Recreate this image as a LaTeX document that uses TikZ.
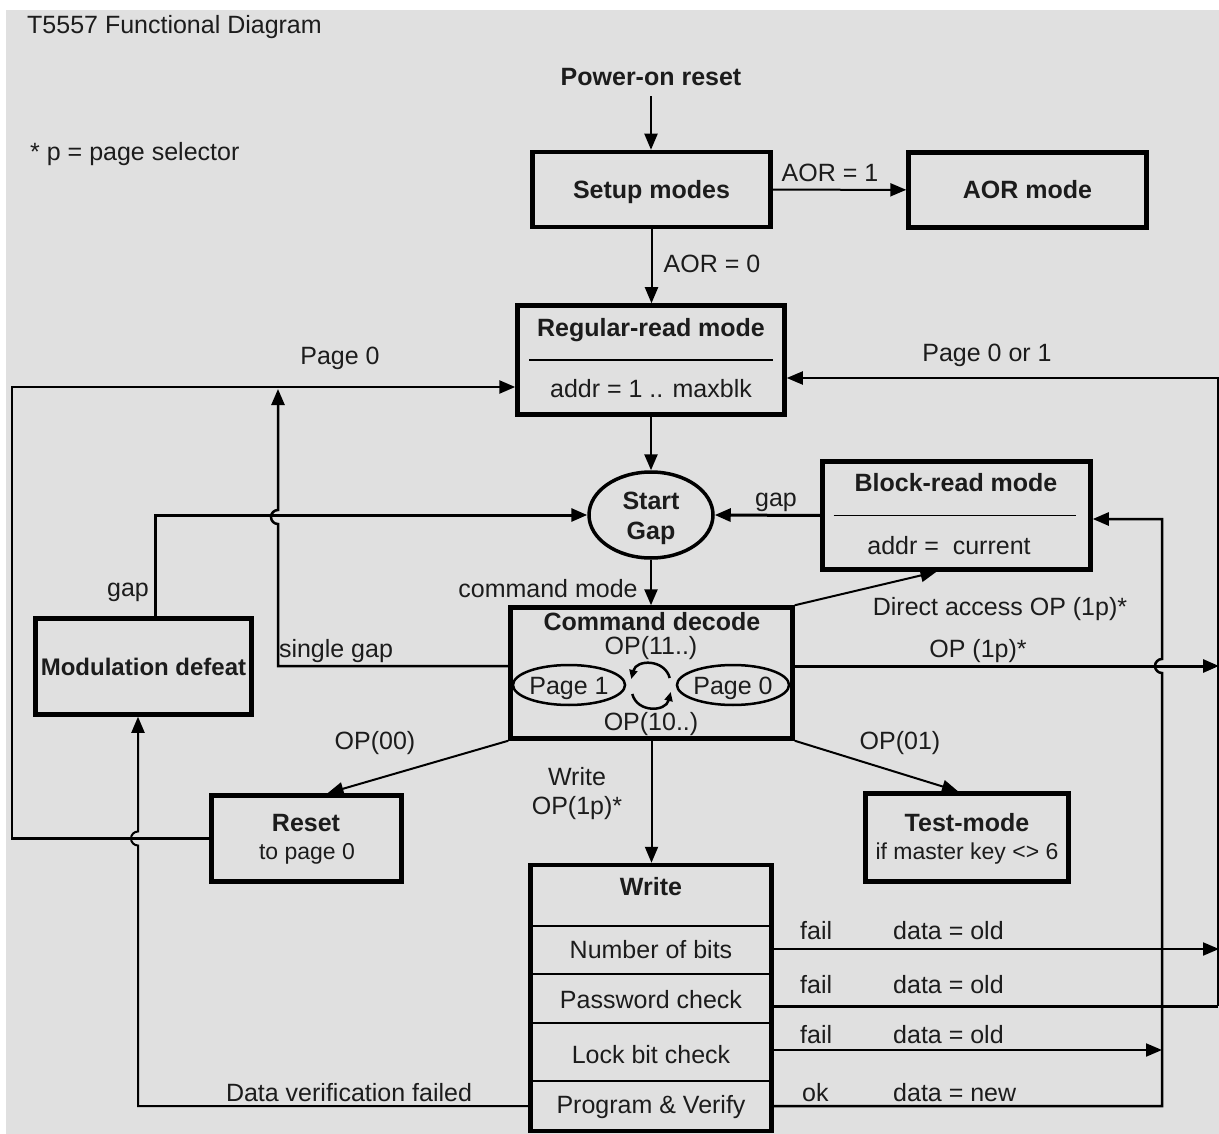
\documentclass[tikz,border=0pt]{standalone}
\usepackage{fontspec}
\setmainfont{Liberation Sans}
\usetikzlibrary{arrows.meta,shapes.geometric,calc}
\definecolor{panel}{HTML}{E0E0E0}
\definecolor{ink}{HTML}{1C1C1C}
\newcommand\txtrg{\fontsize{25}{29}\selectfont}
\newcommand\txtsm{\fontsize{23}{27}\selectfont}
\newcommand\txtbd{\fontsize{25}{29}\selectfont\bfseries}
\newcommand\txtbdn{\fontsize{24}{28}\selectfont\bfseries}

\begin{document}
\begin{tikzpicture}[x=1pt,y=-1pt,
  lbl/.style={inner sep=0pt, text height=18pt, text depth=0pt, font=\txtrg, text=ink},
  lblb/.style={lbl, font=\txtbd},
  lbls/.style={lbl, font=\txtsm, text height=16.5pt},
  box/.style={draw=black, line width=4.5pt, rectangle, inner sep=0pt,
              text height=18pt, text depth=0pt, font=\txtbd, text=ink},
  oval/.style={draw=black, ellipse, inner sep=0pt},
  tip/.style={-{Triangle[length=16pt,width=13pt]}},
  smalltip/.style={-{Triangle[length=9pt,width=8pt]}},
  conn/.style={line width=2pt, tip},
  connm/.style={line width=2.5pt, tip},
  connb/.style={line width=3pt, tip},
  sep/.style={line width=2pt}
]
% canvas
\fill[white] (0,0) rectangle (1219,1134);
\fill[panel] (6,10) rectangle (1219,1134);
\useasboundingbox (0,0) rectangle (1219,1134);

% headings
\node[lbl, anchor=west] (title) at (27,25) {T5557 Functional Diagram};
\node[lbl, anchor=west] (note) at (30,152) {* p = page selector};
\node[lblb] (power) at (651,77) {Power-on reset};

% state boxes
\node[box, minimum width=238pt, minimum height=75pt] (setup) at (651.5,189.5) {Setup modes};
\node[box, minimum width=238pt, minimum height=75pt] (aor) at (1027.5,190) {AOR mode};

\node[box, minimum width=267pt, minimum height=109pt] (regular) at (651,360) {};
\node[lblb] (regt) at (651,328) {Regular-read mode};
\node[lbl] (rega) at (651,388) {addr = 1 .. maxblk};
\draw[line width=2.5pt] ($(regular.center)+(-122pt,0)$) -- ($(regular.center)+(122pt,0)$);

\node[box, minimum width=268pt, minimum height=108pt] (block) at (956.5,515.5) {};
\node[lblb] (blkt) at (956,482) {Block-read mode};
\node[lbl] (blka) at (949,545) {addr = \ current};
\draw[line width=1.8pt] ($(block.center)+(-123pt,0)$) -- ($(block.center)+(119pt,0)$);

\node[oval, line width=3.5pt, minimum width=124pt, minimum height=86pt] (start) at (651,515) {};
\node[lblb] (startt) at (651,500) {Start};
\node[lblb] (gapt) at (651,530) {Gap};

\node[box, minimum width=282pt, minimum height=131pt] (cmd) at (651.5,673) {};
\node[lblb] (cmdt) at (652,621) {Command decode};
\node[lbl] (op11) at (651,645) {OP(11..)};
\node[lbl] (op10) at (651,721) {OP(10..)};
\node[oval, lbl, line width=2.5pt, minimum width=105pt, minimum height=40pt] (pg1) at (569,685) {Page 1};
\node[oval, lbl, line width=2.5pt, minimum width=106pt, minimum height=40pt] (pg0) at (733,685) {Page 0};

\node[box, font=\txtbdn, minimum width=216pt, minimum height=96pt] (mod) at (143.5,666.5) {Modulation defeat};

\node[box, minimum width=190pt, minimum height=86pt] (reset) at (306.5,838.5) {};
\node[lblb] (resett) at (306,822) {Reset};
\node[lbls] (resets) at (307,851) {to page 0};

\node[box, minimum width=203pt, minimum height=88pt] (test) at (967,837.5) {};
\node[lblb] (testt) at (967,822) {Test-mode};
\node[lbls] (tests) at (967,851) {if master key <> 6};

% write sequence
\node[box, minimum width=241pt, minimum height=266pt] (write) at (651,998) {};
\foreach \yy in {926,974,1023,1081}
  \draw[sep] (write.west |- 0,\yy) -- (write.east |- 0,\yy);
\node[lblb] (wt) at (651,886) {Write};
\node[lbl] (wnb) at (651,949) {Number of bits};
\node[lbl] (wpw) at (651,999) {Password check};
\node[lbl] (wlb) at (651,1054) {Lock bit check};
\node[lbl] (wpv) at (651,1104) {Program \& Verify};
\coordinate (nb) at (0,949);
\coordinate (pw) at (0,1006);
\coordinate (lb) at (0,1050);
\coordinate (pv) at (0,1106);

% main flow
\draw[conn] (power.south) ++(0,10) -- (power.south |- setup.north);
\draw[conn] (setup) -- (aor);
\node[lbl] (aor1) at (830,173) {AOR = 1};
\draw[conn] (setup.south) -- (setup.south |- regular.north);
\node[lbl] (aor0) at (712,264) {AOR = 0};
\draw[connm] (regular.south) -- (start.north);
\draw[connm] (start.south) -- (start.south |- cmd.north);
\node[lbl] (cmode) at (548,588) {command mode};
\draw[connb] (block.west) -- (start.east);
\node[lbl] (gapr) at (776,497) {gap};
\coordinate (mx) at (155,600);
\draw[connb] (mod.north -| mx) |- (start.west);
\node[lbl] (gapl) at (128,587) {gap};

% page selection inside command decode
\draw[line width=2.5pt, smalltip]
  ($(pg0.west)+(-6pt,7pt)$) .. controls +(-5,-19) and +(5,-20) .. ($(pg1.east)+(5pt,6pt)$);
\draw[line width=2.5pt, smalltip]
  ($(pg1.east)+(6pt,-9pt)$) .. controls +(5,19) and +(-5,20) .. ($(pg0.west)+(-5pt,-7pt)$);

% command decode exits
\draw[conn] (cmd.north east) -- ($(block.south)+(-20pt,0)$);
\node[lbl] (dacc) at (1000,606) {Direct access OP (1p)*};
\coordinate (opr) at (1219,666);
\draw[connb] (cmd.east |- opr) -- (opr);
\node[lbl] (op1p) at (978,648) {OP (1p)*};
\coordinate (sg) at (278,389);
\draw[connm] (cmd.west |- opr) -- (sg |- opr) -- (278,524)
  arc[start angle=270, end angle=90, radius=7pt] -- (sg);
\node[lbl] (sgap) at (336,648) {single gap};
\draw[conn] (cmd.south west) -- ($(reset.north)+(21pt,0)$);
\node[lbl] (op00) at (375,740) {OP(00)};
\draw[conn] (cmd.south east) -- ($(test.north)+(-9pt,0)$);
\node[lbl] (op01) at (900,740) {OP(01)};
\draw[conn] (cmd.south) -- (cmd.south |- write.north);
\node[lbl] (wr1) at (577,776) {Write};
\node[lbl] (wr2) at (577,805) {OP(1p)*};

% return to regular read
\coordinate (pz) at (12,387);
\draw[connm] (reset.west) -| (pz) -- (regular.west |- pz);
\node[lbl] (pg0l) at (340,355) {Page 0};
\coordinate (pr) at (1218,378);
\draw[line width=3pt] (write.east |- pw) -- (pr |- pw);
\draw[conn] (pr |- pw) -- (pr) -- (regular.east |- pr);
\node[lbl] (pg01) at (987,352) {Page 0 or 1};

% write results
\coordinate (dv) at (138,1106);
\draw[conn] (write.west |- dv) -- (dv) -- (138,845.5)
  arc[start angle=270, end angle=90, radius=7pt] -- (mod.south -| dv);
\node[lbl] (dvf) at (349,1092) {Data verification failed};
\coordinate (vr) at (1162,519);
\draw[connm] (write.east |- pv) -- (vr |- pv) -- (1162,673)
  arc[start angle=270, end angle=90, radius=7pt] -- (vr) -- (block.east |- vr);
\draw[conn] (write.east |- lb) -- (vr |- lb);
\draw[conn] (write.east |- nb) -- (1219,949);

\node[lbl, anchor=west] (f1) at (800,930) {fail};
\node[lbl, anchor=west] (d1) at (893,930) {data = old};
\node[lbl, anchor=west] (f2) at (800,984) {fail};
\node[lbl, anchor=west] (d2) at (893,984) {data = old};
\node[lbl, anchor=west] (f3) at (800,1034) {fail};
\node[lbl, anchor=west] (d3) at (893,1034) {data = old};
\node[lbl, anchor=west] (ok) at (802,1092) {ok};
\node[lbl, anchor=west] (d4) at (893,1092) {data = new};
\end{tikzpicture}
\end{document}
